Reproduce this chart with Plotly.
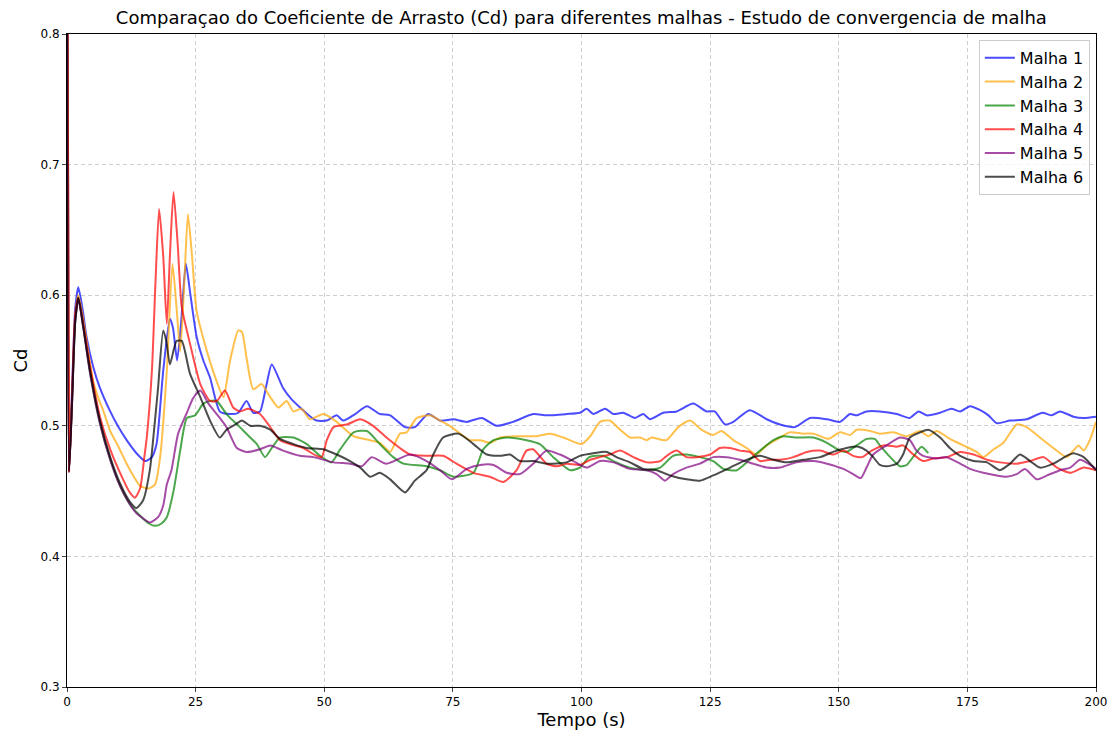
import plotly.graph_objects as go

# (tempo [s], Cd)
malha1 = [(0,0.95),(0.4,0.465),(1.0,0.53),(1.6,0.59),(2.2,0.606),(3.0,0.59),(3.8,0.568),(5.1,0.545),(6.4,0.529),(8.4,0.511),(10.0,0.499),(11.6,0.489),(13.5,0.479),(15.2,0.473),(16.5,0.476),(17.4,0.486),(18.7,0.542),(20.0,0.582),(20.6,0.575),(21.4,0.55),(22.2,0.58),(23.1,0.624),(24.0,0.60),(25.2,0.568),(26.5,0.55),(27.8,0.537),(29.7,0.511),(31.7,0.509),(33.3,0.51),(34.9,0.519),(36.2,0.510),(37.5,0.511),(38.7,0.53),(39.8,0.547),(42.0,0.529),(43.7,0.52),(45.3,0.514),(47.0,0.508),(48.5,0.504),(50.5,0.504),(52.4,0.508),(53.7,0.504),(56.0,0.509),(58.3,0.515),(60.8,0.509),(62.8,0.508),(65.7,0.499),(67.6,0.499),(70.2,0.509),(72.5,0.504),(75.1,0.505),(77.7,0.503),(80.6,0.506),(83.5,0.500),(86.7,0.503),(90.6,0.509),(93.2,0.508),(97.1,0.509),(99.7,0.510),(101.0,0.513),(102.3,0.509),(104.6,0.513),(106.2,0.509),(108.1,0.510),(110.4,0.506),(112.0,0.509),(113.3,0.505),(115.9,0.510),(118.5,0.511),(121.7,0.517),(124.3,0.511),(125.9,0.511),(127.9,0.501),(129.5,0.503),(132.7,0.512),(136.0,0.505),(138.6,0.501),(141.5,0.499),(144.4,0.506),(147.7,0.505),(150.2,0.503),(152.2,0.509),(153.5,0.508),(155.4,0.511),(158.0,0.511),(161.3,0.509),(163.8,0.506),(165.5,0.511),(167.1,0.508),(169.7,0.510),(171.9,0.513),(173.6,0.511),(175.5,0.515),(177.5,0.512),(179.1,0.508),(180.7,0.502),(183.3,0.504),(186.5,0.505),(189.6,0.510),(191.4,0.508),(193.0,0.511),(195.6,0.507),(197.6,0.506),(200,0.507)]

malha2 = [(0,0.95),(0.4,0.465),(1.0,0.525),(1.6,0.585),(2.2,0.600),(3.0,0.585),(4.0,0.56),(5.1,0.534),(6.2,0.52),(7.1,0.511),(8.4,0.496),(10.0,0.484),(11.6,0.471),(13.0,0.461),(14.2,0.454),(15.8,0.452),(17.1,0.455),(18.1,0.476),(19.4,0.542),(20.5,0.624),(21.3,0.59),(22.0,0.557),(22.8,0.61),(23.5,0.662),(24.3,0.63),(25.2,0.588),(27.2,0.557),(29.1,0.534),(30.4,0.522),(31.7,0.55),(33.3,0.573),(34.0,0.572),(34.9,0.552),(36.2,0.528),(37.8,0.532),(39.5,0.522),(41.1,0.514),(42.7,0.519),(44.0,0.511),(45.6,0.513),(47.2,0.505),(49.8,0.509),(52.1,0.504),(54.4,0.496),(55.7,0.492),(58.9,0.489),(60.8,0.487),(62.8,0.480),(64.7,0.494),(66.0,0.495),(68.0,0.506),(70.6,0.508),(72.5,0.504),(74.4,0.500),(76.4,0.494),(78.3,0.489),(80.3,0.489),(82.2,0.487),(84.2,0.491),(87.4,0.492),(91.3,0.492),(93.9,0.494),(96.5,0.491),(100.0,0.486),(101.7,0.492),(103.6,0.503),(105.5,0.504),(107.5,0.497),(109.4,0.491),(111.4,0.491),(112.7,0.489),(113.6,0.491),(116.5,0.489),(118.8,0.499),(121.1,0.504),(123.3,0.497),(125.6,0.493),(127.2,0.496),(129.5,0.489),(132.1,0.483),(134.0,0.478),(136.0,0.485),(138.6,0.491),(140.5,0.495),(143.1,0.494),(145.1,0.494),(148.0,0.490),(150.2,0.495),(152.2,0.493),(153.5,0.497),(156.1,0.496),(158.0,0.494),(160.6,0.495),(163.2,0.492),(165.8,0.496),(167.4,0.492),(169.0,0.496),(171.6,0.490),(174.2,0.485),(176.8,0.480),(178.1,0.476),(180.1,0.482),(182.0,0.487),(184.6,0.501),(186.5,0.499),(189.1,0.491),(191.7,0.483),(194.3,0.476),(195.6,0.481),(196.6,0.485),(197.6,0.481),(198.8,0.489),(200,0.503)]

malha3 = [(0,0.95),(0.4,0.465),(1.0,0.52),(1.6,0.58),(2.2,0.598),(3.2,0.575),(4.5,0.540),(6.4,0.502),(8.4,0.474),(10.3,0.454),(12.2,0.440),(14.5,0.430),(16.0,0.425),(17.1,0.4234),(18.3,0.425),(19.4,0.430),(20.7,0.450),(22.0,0.481),(23.3,0.506),(24.9,0.508),(26.5,0.517),(27.8,0.519),(29.1,0.519),(31.0,0.509),(33.6,0.499),(35.6,0.491),(36.9,0.486),(38.5,0.476),(39.8,0.483),(41.4,0.491),(44.0,0.491),(46.6,0.486),(49.2,0.477),(51.4,0.472),(53.1,0.482),(55.7,0.495),(58.3,0.496),(60.8,0.486),(63.4,0.476),(65.4,0.471),(69.9,0.469),(72.5,0.466),(75.1,0.461),(79.0,0.464),(80.9,0.482),(82.9,0.489),(85.5,0.491),(89.3,0.489),(91.9,0.486),(94.5,0.476),(97.8,0.466),(99.7,0.468),(101.5,0.476),(104.2,0.477),(106.2,0.473),(109.4,0.468),(112.7,0.466),(115.3,0.468),(117.8,0.477),(120.4,0.478),(123.0,0.476),(125.6,0.473),(127.6,0.467),(130.2,0.466),(132.1,0.472),(134.7,0.481),(137.3,0.489),(139.2,0.492),(141.8,0.491),(145.1,0.491),(147.7,0.487),(150.2,0.481),(151.5,0.480),(153.5,0.485),(155.4,0.490),(157.0,0.490),(158.0,0.485),(160.0,0.476),(161.9,0.469),(163.2,0.470),(164.8,0.478),(166.1,0.484),(167.4,0.479)]

malha4 = [(0,0.95),(0.4,0.465),(1.0,0.525),(1.6,0.585),(2.2,0.598),(3.2,0.577),(4.5,0.545),(6.4,0.507),(8.4,0.482),(10.9,0.459),(12.2,0.449),(13.2,0.445),(14.2,0.452),(15.0,0.475),(15.5,0.491),(16.5,0.542),(17.2,0.61),(17.9,0.666),(18.7,0.63),(19.4,0.578),(20.0,0.63),(20.7,0.679),(21.5,0.64),(22.3,0.591),(23.9,0.563),(25.9,0.532),(27.8,0.519),(29.1,0.519),(30.7,0.527),(32.3,0.514),(33.6,0.511),(35.2,0.513),(37.5,0.509),(39.5,0.499),(41.4,0.489),(43.3,0.486),(45.9,0.483),(48.5,0.477),(49.5,0.476),(50.5,0.489),(51.8,0.499),(54.4,0.501),(57.0,0.505),(59.5,0.500),(62.1,0.491),(64.7,0.483),(66.7,0.478),(69.9,0.477),(73.1,0.477),(75.7,0.471),(79.0,0.464),(82.2,0.461),(84.8,0.457),(87.4,0.466),(89.3,0.481),(90.6,0.482),(93.2,0.471),(95.2,0.469),(97.1,0.471),(99.7,0.470),(101.7,0.474),(103.6,0.476),(105.5,0.478),(107.5,0.481),(110.1,0.476),(112.7,0.472),(115.3,0.473),(116.9,0.478),(118.5,0.481),(120.4,0.476),(122.4,0.476),(125.0,0.478),(126.9,0.483),(128.9,0.483),(130.8,0.481),(132.7,0.480),(134.7,0.473),(136.6,0.474),(138.6,0.474),(141.2,0.476),(143.8,0.480),(146.4,0.481),(148.9,0.478),(150.9,0.481),(152.8,0.477),(154.5,0.476),(156.4,0.481),(158.7,0.485),(161.3,0.484),(162.5,0.485),(164.5,0.478),(166.4,0.473),(168.4,0.475),(171.0,0.476),(173.6,0.480),(176.2,0.478),(178.8,0.474),(181.3,0.472),(184.6,0.471),(187.2,0.473),(189.8,0.476),(192.4,0.468),(195.0,0.464),(197.6,0.468),(200,0.466)]

malha5 = [(0,0.95),(0.4,0.465),(1.0,0.52),(1.6,0.58),(2.2,0.597),(3.2,0.574),(4.5,0.540),(6.4,0.502),(8.4,0.474),(10.3,0.454),(12.2,0.440),(13.5,0.433),(14.5,0.430),(16.1,0.426),(17.7,0.430),(18.7,0.439),(19.4,0.455),(20.3,0.466),(21.6,0.494),(23.3,0.510),(24.5,0.521),(25.9,0.527),(27.5,0.517),(29.1,0.509),(31.0,0.499),(33.0,0.483),(34.9,0.480),(37.5,0.482),(39.5,0.485),(42.0,0.481),(45.3,0.477),(47.9,0.476),(51.8,0.472),(55.0,0.471),(57.3,0.469),(59.2,0.476),(62.1,0.471),(66.7,0.478),(69.9,0.473),(72.5,0.466),(74.8,0.459),(77.7,0.467),(80.3,0.470),(82.9,0.470),(85.5,0.464),(88.0,0.463),(90.6,0.471),(93.2,0.481),(95.8,0.478),(98.4,0.473),(101.0,0.468),(103.6,0.473),(106.2,0.472),(109.4,0.467),(112.7,0.466),(114.6,0.463),(116.2,0.458),(117.8,0.463),(120.4,0.468),(123.0,0.471),(125.6,0.476),(128.2,0.476),(130.8,0.474),(133.4,0.471),(136.0,0.468),(138.6,0.468),(141.8,0.472),(145.1,0.473),(147.7,0.471),(150.9,0.467),(152.8,0.463),(154.3,0.460),(155.4,0.468),(156.7,0.478),(159.3,0.485),(161.9,0.491),(163.8,0.489),(165.1,0.481),(166.4,0.477),(169.0,0.475),(171.0,0.476),(173.6,0.471),(175.5,0.467),(178.1,0.464),(180.7,0.462),(182.6,0.461),(184.6,0.463),(186.2,0.467),(188.5,0.459),(190.5,0.462),(193.0,0.466),(195.0,0.468),(196.9,0.474),(198.5,0.471),(200,0.467)]

malha6 = [(0,0.95),(0.4,0.465),(1.0,0.52),(1.6,0.58),(2.2,0.598),(3.2,0.575),(4.5,0.542),(6.4,0.504),(8.4,0.476),(10.3,0.456),(12.2,0.442),(13.5,0.437),(14.8,0.443),(16.1,0.466),(17.0,0.50),(17.7,0.529),(18.7,0.573),(19.3,0.565),(20.0,0.547),(21.3,0.565),(22.3,0.565),(23.9,0.540),(25.9,0.522),(27.8,0.504),(29.7,0.491),(31.0,0.497),(32.7,0.501),(34.0,0.504),(35.6,0.500),(37.5,0.500),(39.5,0.497),(41.4,0.490),(44.0,0.486),(46.6,0.483),(49.8,0.482),(52.4,0.478),(55.0,0.473),(57.0,0.468),(58.9,0.461),(60.8,0.464),(62.8,0.459),(65.7,0.449),(67.6,0.458),(69.9,0.466),(71.2,0.478),(73.1,0.491),(76.1,0.494),(79.0,0.486),(81.6,0.478),(84.2,0.477),(86.1,0.478),(88.0,0.473),(90.6,0.473),(93.2,0.471),(97.1,0.472),(99.7,0.477),(102.3,0.479),(104.9,0.480),(106.8,0.476),(109.4,0.472),(112.0,0.467),(114.6,0.466),(117.2,0.462),(120.4,0.459),(123.0,0.458),(125.6,0.462),(128.9,0.468),(131.5,0.473),(134.7,0.477),(137.3,0.474),(139.9,0.472),(143.1,0.474),(146.4,0.476),(148.9,0.480),(151.5,0.483),(153.8,0.484),(155.4,0.481),(156.7,0.476),(158.0,0.470),(159.3,0.469),(161.3,0.471),(162.5,0.478),(163.8,0.491),(165.8,0.495),(167.4,0.497),(169.7,0.491),(171.6,0.483),(173.6,0.477),(176.2,0.473),(178.8,0.472),(181.3,0.466),(183.3,0.471),(185.2,0.478),(187.2,0.473),(189.1,0.468),(191.7,0.471),(194.3,0.477),(195.6,0.479),(197.6,0.476),(200,0.466)]

nomes = ["Malha 1", "Malha 2", "Malha 3", "Malha 4", "Malha 5", "Malha 6"]
series = [malha1, malha2, malha3, malha4, malha5, malha6]
cores = ["rgba(0,0,255,0.7)", "rgba(255,165,0,0.7)", "rgba(0,128,0,0.7)",
         "rgba(255,0,0,0.7)", "rgba(128,0,128,0.7)", "rgba(0,0,0,0.7)"]

x_ticks = [0, 25, 50, 75, 100, 125, 150, 175, 200]
y_ticks = [0.3, 0.4, 0.5, 0.6, 0.7, 0.8]

fig = go.Figure()
for nome, s, cor in zip(nomes, series, cores):
    fig.add_trace(go.Scatter(
        x=[p[0] for p in s], y=[p[1] for p in s], name=nome, mode="lines",
        line=dict(color=cor, width=2, shape="spline", smoothing=0.6),
    ))

fnt = "DejaVu Sans, sans-serif"
fig.update_layout(
    width=1111, height=734,
    margin=dict(l=67, r=15, t=34, b=47),
    paper_bgcolor="white", plot_bgcolor="white",
    font=dict(family=fnt, color="black"),
    title=dict(text="Comparaçao do Coeficiente de Arrasto (Cd) para diferentes malhas - Estudo de convergencia de malha",
               x=0.5233, xanchor="center", y=1 - 18/734, yanchor="middle",
               font=dict(size=18, family=fnt)),
    legend=dict(x=0.994, y=0.991, xanchor="right", yanchor="top",
                bgcolor="rgba(255,255,255,0.8)", bordercolor="#cccccc", borderwidth=1,
                font=dict(size=16, family=fnt)),
    showlegend=True,
)
fig.update_xaxes(range=[0, 200], tickvals=x_ticks, ticks="outside", ticklen=4,
                 automargin=False,
                 showline=True, linecolor="black", linewidth=1, mirror=True,
                 showgrid=True, gridcolor="#cfcfcf", griddash="4px,3px", gridwidth=1,
                 zeroline=False, tickfont=dict(size=12),
                 title=dict(text="Tempo (s)", font=dict(size=18), standoff=4))
fig.update_yaxes(range=[0.3, 0.8], tickvals=y_ticks, tickformat=".1f", ticks="outside", ticklen=4,
                 automargin=False,
                 showline=True, linecolor="black", linewidth=1, mirror=True,
                 showgrid=True, gridcolor="#cfcfcf", griddash="4px,3px", gridwidth=1,
                 zeroline=False, tickfont=dict(size=12),
                 title=dict(text="Cd", font=dict(size=18), standoff=8))

fig.write_html("out.html")
